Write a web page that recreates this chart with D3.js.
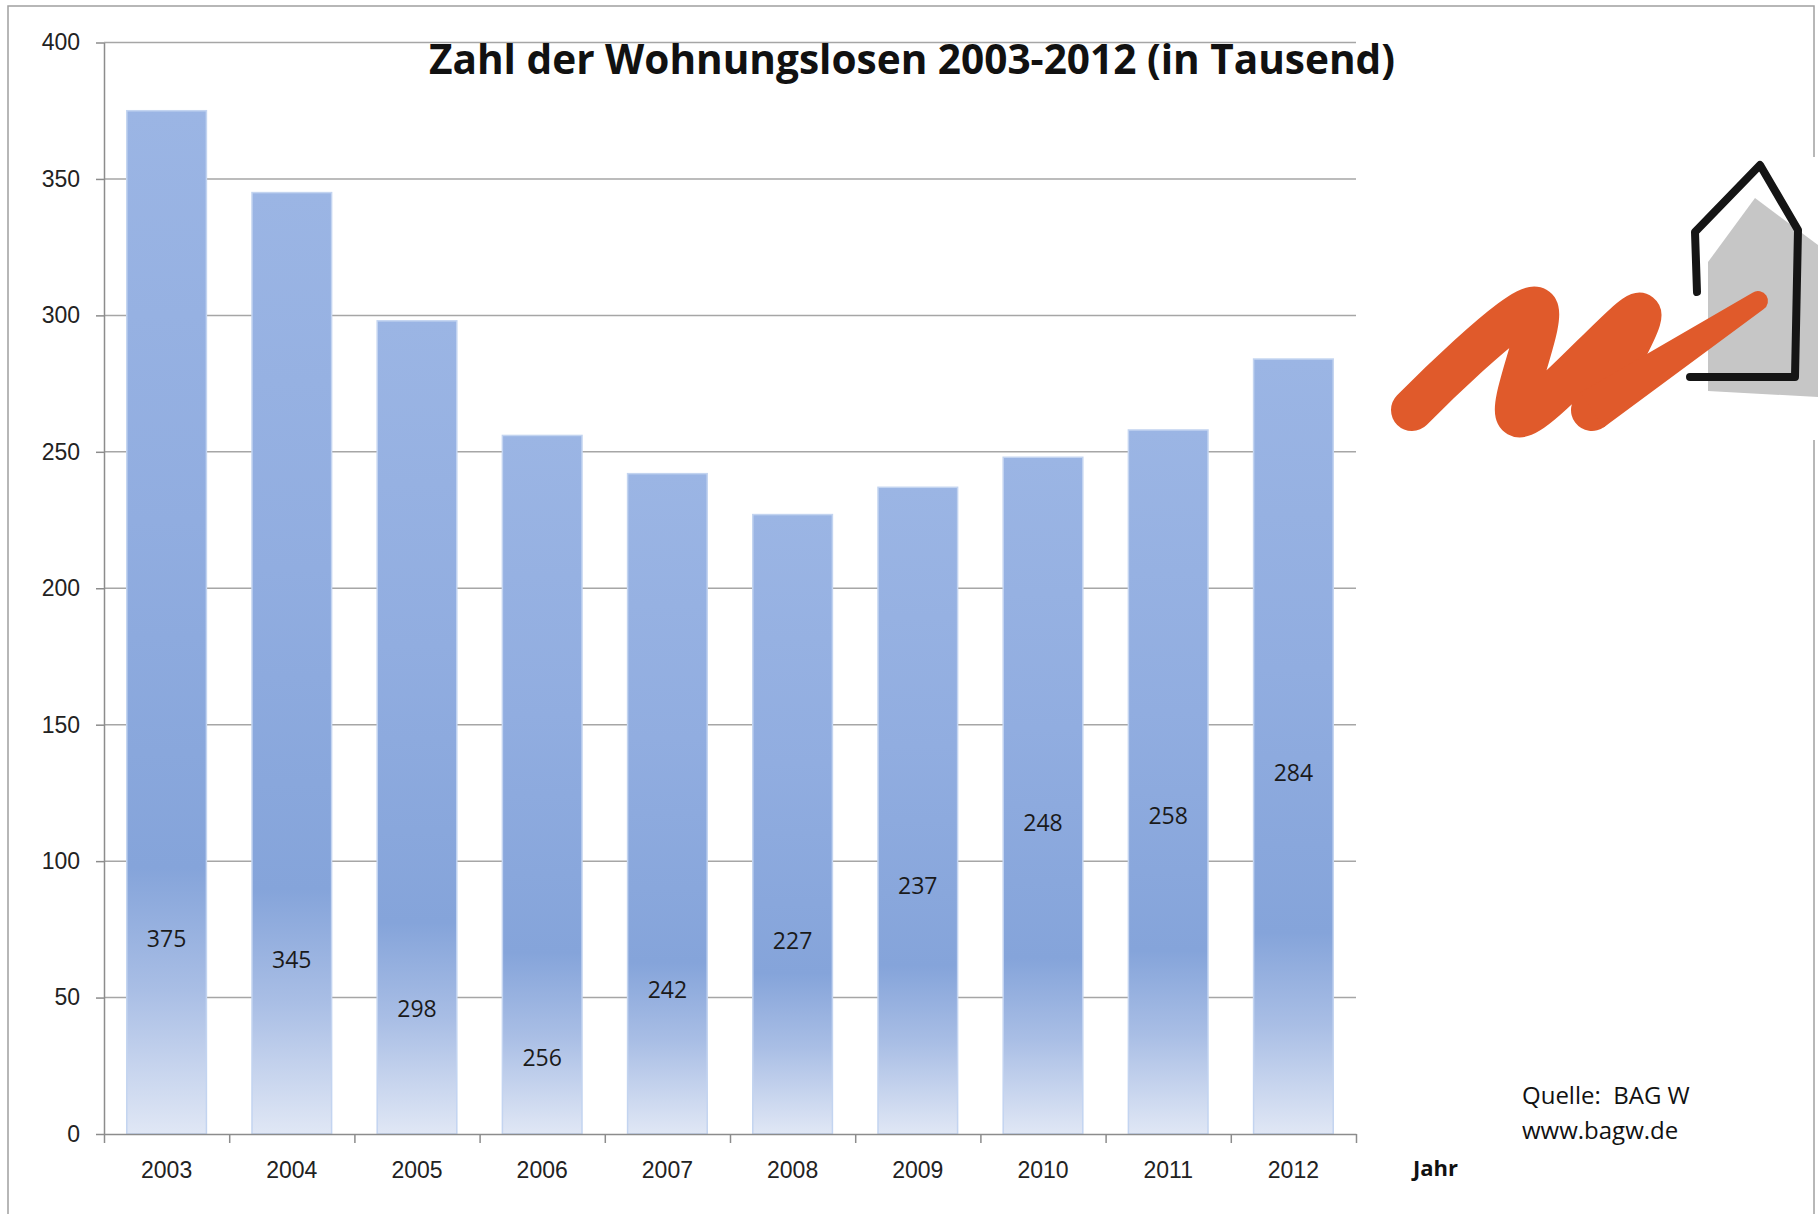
<!DOCTYPE html>
<html lang="de">
<head>
<meta charset="UTF-8">
<title>Zahl der Wohnungslosen 2003-2012</title>
<script src="https://cdn.jsdelivr.net/npm/d3@7/dist/d3.min.js"></script>
<style>
  html, body { margin: 0; padding: 0; background: #fff; }
  svg { display: block; font-family: "Open Sans", "Noto Sans", sans-serif; }
</style>
</head>
<body>
<svg width="1818" height="1214"></svg>
<script>
  // data
  const years = ['2003', '2004', '2005', '2006', '2007', '2008', '2009', '2010', '2011', '2012'];
  const homeless = [375, 345, 298, 256, 242, 227, 237, 248, 258, 284];
  // where each value label sits inside its bar (in axis units)
  const labelAt = [71.5, 64, 46, 28, 53, 71, 91, 114, 116.5, 132.5];
  const yTicks = [0, 50, 100, 150, 200, 250, 300, 350, 400];

  const svg = d3.select('svg');
  const width = +svg.attr('width');
  const height = +svg.attr('height');

  const margin = { top: 42.5, left: 104, right: 462, bottom: 80 };
  const plotRight = width - margin.right;   // 1356
  const plotBottom = height - margin.bottom; // 1134

  svg.append('rect').attr('width', width).attr('height', height).attr('fill', '#fff');

  // outer frame
  svg.append('rect')
    .attr('x', 8).attr('y', 6)
    .attr('width', 1806).attr('height', 1240)
    .attr('fill', 'none').attr('stroke', '#a0a0a0').attr('stroke-width', 1.5);

  const x = d3.scaleBand().domain(years).range([margin.left, plotRight]).paddingInner(0.364).paddingOuter(0.182);
  const xEdge = d3.scaleLinear().domain([0, years.length]).range([margin.left, plotRight]);
  const y = d3.scaleLinear().domain([0, 400]).range([plotBottom, margin.top]);

  // gradient of the bars
  const grad = svg.append('defs').append('linearGradient')
    .attr('id', 'barGrad').attr('x1', 0).attr('y1', 0).attr('x2', 0).attr('y2', 1);
  [[0, '#9bb5e4'], [0.4, '#91ade0'], [0.74, '#85a4da'], [0.86, '#a9bee5'], [1, '#e0e7f5']]
    .forEach(s => grad.append('stop').attr('offset', s[0]).attr('stop-color', s[1]));

  // grid lines
  svg.append('g')
    .selectAll('line')
    .data(yTicks.filter(d => d > 0))
    .join('line')
    .attr('x1', margin.left).attr('x2', plotRight)
    .attr('y1', d => y(d)).attr('y2', d => y(d))
    .attr('stroke', '#a6a6a6').attr('stroke-width', 1.5);

  // bars
  svg.append('g')
    .selectAll('rect')
    .data(homeless)
    .join('rect')
    .attr('x', (d, i) => x(years[i]))
    .attr('y', d => y(d))
    .attr('width', x.bandwidth())
    .attr('height', d => y(0) - y(d))
    .attr('fill', 'url(#barGrad)')
    .attr('stroke', '#c3d4f0').attr('stroke-width', 1.5);

  // value labels
  svg.append('g')
    .selectAll('text')
    .data(homeless)
    .join('text')
    .attr('x', (d, i) => x(years[i]) + x.bandwidth() / 2)
    .attr('y', (d, i) => y(labelAt[i]))
    .attr('dy', '0.36em')
    .attr('text-anchor', 'middle')
    .attr('font-size', 23)
    .attr('fill', '#1a1a1a')
    .text(d => d);

  // y axis
  const yAxis = svg.append('g')
    .attr('transform', `translate(${margin.left},0)`)
    .call(d3.axisLeft(y).tickValues(yTicks).tickSize(8).tickSizeOuter(0).tickPadding(16));
  yAxis.select('.domain').attr('stroke', '#8c8c8c').attr('stroke-width', 1.5);
  yAxis.selectAll('.tick line').attr('stroke', '#8c8c8c').attr('stroke-width', 1.5);
  yAxis.selectAll('.tick text').attr('font-size', 23).attr('fill', '#222').attr('font-family', null);

  // x axis: tick marks between categories
  const xTickAxis = svg.append('g')
    .attr('transform', `translate(0,${plotBottom})`)
    .call(d3.axisBottom(xEdge).tickValues(d3.range(years.length + 1)).tickSize(9).tickSizeOuter(0).tickFormat(''));
  xTickAxis.select('.domain').attr('stroke', '#8c8c8c').attr('stroke-width', 1.5);
  xTickAxis.selectAll('.tick line').attr('stroke', '#8c8c8c').attr('stroke-width', 1.5);

  // x axis: year labels
  const xLabAxis = svg.append('g')
    .attr('transform', `translate(0,${plotBottom})`)
    .call(d3.axisBottom(x).tickSize(0).tickPadding(28));
  xLabAxis.select('.domain').remove();
  xLabAxis.selectAll('.tick text').attr('font-size', 23).attr('fill', '#222').attr('font-family', null);

  // title
  svg.append('text')
    .attr('x', 912).attr('y', 74)
    .attr('text-anchor', 'middle')
    .attr('font-size', 42).attr('font-weight', 700)
    .attr('fill', '#111')
    .attr('textLength', 966).attr('lengthAdjust', 'spacingAndGlyphs')
    .text('Zahl der Wohnungslosen 2003-2012 (in Tausend)');

  // axis title
  svg.append('text')
    .attr('x', 1413).attr('y', 1176)
    .attr('font-size', 22).attr('font-weight', 700).attr('fill', '#111')
    .text('Jahr');

  // source
  const src = svg.append('g').attr('font-size', 24).attr('fill', '#111');
  src.append('text').attr('x', 1522).attr('y', 1104).attr('xml:space', 'preserve').text('Quelle:  BAG W');
  src.append('text').attr('x', 1522).attr('y', 1139).text('www.bagw.de');

  // logo (BAG W)
  const logo = svg.append('g').attr('class', 'logo');
  logo.append('rect').attr('x', 1390).attr('y', 157).attr('width', 428).attr('height', 283).attr('fill', '#fff');

  logo.append('path')
    .attr('d', 'M1708,262 L1755,198 L1818,245 L1818,397 L1708,391 Z')
    .attr('fill', '#c6c6c6');

  logo.append('path')
    .attr('d', 'M1697,292 L1695,232 L1760,165 L1798,230 L1795,377 L1690,377')
    .attr('fill', 'none').attr('stroke', '#151515').attr('stroke-width', 8)
    .attr('stroke-linejoin', 'round').attr('stroke-linecap', 'round');

  const zig = [[1412, 410], [1536, 308], [1518, 416], [1640, 314], [1592, 410]];
  logo.append('path')
    .attr('d', d3.line().curve(d3.curveCatmullRom.alpha(0.5))(zig))
    .attr('fill', 'none').attr('stroke', '#e05a2b').attr('stroke-width', 42)
    .attr('stroke-linejoin', 'round').attr('stroke-linecap', 'round');

  // tapered tail of the brush stroke
  const p4 = zig[zig.length - 1], p5 = [1758, 301];
  const dx = p5[0] - p4[0], dy = p5[1] - p4[1], len = Math.hypot(dx, dy);
  const nx = -dy / len, ny = dx / len;
  logo.append('path')
    .attr('d', `M${p4[0] + nx * 21},${p4[1] + ny * 21} L${p5[0] + nx * 10},${p5[1] + ny * 10} ` +
      `A10,10 0 0 0 ${p5[0] - nx * 10},${p5[1] - ny * 10} L${p4[0] - nx * 21},${p4[1] - ny * 21} Z`)
    .attr('fill', '#e05a2b');
</script>
</body>
</html>
